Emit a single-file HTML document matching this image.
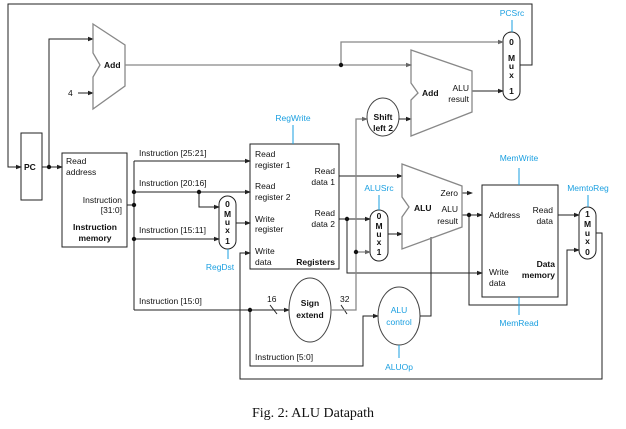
<!DOCTYPE html>
<html><head><meta charset="utf-8"><style>
body{margin:0;background:#fff;width:626px;height:429px;overflow:hidden}
svg{display:block}
text{font-family:"Liberation Sans",sans-serif;font-size:8.5px;fill:#111}
.b{font-weight:bold}
.c{fill:#1a9fe0}
.m{font-weight:bold;text-anchor:middle}
</style></head><body>
<svg width="626" height="429" viewBox="0 0 626 429">
<defs>
<marker id="a" markerWidth="6" markerHeight="6" refX="5" refY="3" orient="auto" markerUnits="userSpaceOnUse"><path d="M0,0.8 L6,3 L0,5.2 z" fill="#222"/></marker>
<marker id="g" markerWidth="6" markerHeight="6" refX="5" refY="3" orient="auto" markerUnits="userSpaceOnUse"><path d="M0,0.8 L6,3 L0,5.2 z" fill="#666"/></marker>
</defs>
<g fill="none" stroke="#222" stroke-width="1">
<polyline points="520,65 532,65 532,4 8,4 8,167 21,167" marker-end="url(#a)"/>
<rect x="21" y="133" width="21" height="67"/>
<polyline points="42,167 62,167" marker-end="url(#a)"/>
<polyline points="49,167 49,39 93,39" marker-end="url(#a)"/>
<polyline points="78,93 93,93" marker-end="url(#a)"/>
<rect x="62" y="153" width="65" height="94"/>
<polyline points="127,205 134,205"/>
<polyline points="134,161 134,310"/>
<polyline points="134,161 250,161" marker-end="url(#a)"/>
<polyline points="134,192 250,192" marker-end="url(#a)"/>
<polyline points="199,192 199,207 219,207" marker-end="url(#a)"/>
<polyline points="134,239 219,239" marker-end="url(#a)"/>
<polyline points="236,223 250,223" marker-end="url(#a)"/>
<polyline points="134,310 289,310" marker-end="url(#a)"/>
<polyline points="250,310 250,366 363,366 363,316 378,316" marker-end="url(#a)"/>
<rect x="250" y="144" width="89" height="125"/>
<polyline points="339,176 402,176" marker-end="url(#a)"/>
<polyline points="339,219 370,219" marker-end="url(#a)"/>
<polyline points="347,219 347,273 482,273" marker-end="url(#a)"/>
<polyline points="388,234 402,234" marker-end="url(#a)"/>
<rect x="219" y="196" width="17" height="53" rx="8.5"/>
<rect x="370" y="210" width="18" height="51" rx="9"/>
<rect x="503" y="32" width="17" height="68" rx="8.5"/>
<rect x="579" y="207" width="17" height="52" rx="8.5"/>
<polyline points="462,193 472,193" marker-end="url(#a)"/>
<polyline points="462,215 482,215" marker-end="url(#a)"/>
<polyline points="469,215 469,305 567,305 567,250 579,250" marker-end="url(#a)"/>
<rect x="482" y="185" width="76" height="112"/>
<polyline points="558,215 579,215" marker-end="url(#a)"/>
<polyline points="596,233 602,233 602,379 240,379 240,253 250,253" marker-end="url(#a)"/>
<ellipse cx="399" cy="316" rx="21" ry="29" stroke="#444"/>
<polyline points="420,316 431,316 431,237"/>
<ellipse cx="310" cy="310" rx="21" ry="32" stroke="#444"/>
<ellipse cx="383" cy="117" rx="16" ry="19" stroke="#444"/>
<polyline points="399,119 411,119" marker-end="url(#a)"/>
<polyline points="472,91 503,91" marker-end="url(#a)"/>
<line x1="270" y1="305" x2="277" y2="314"/>
<line x1="341" y1="305" x2="347" y2="314"/>
</g>
<g fill="none" stroke="#888" stroke-width="1.3">
<polygon points="93,24 125,45 125,86 93,109 93,77 100,65 93,53"/>
<polygon points="411,50 472,71 472,112 411,136 411,100 418,93 411,83"/>
<polygon points="402,164 462,186 462,227 402,249 402,217 409,207 402,197"/>
<polyline points="125,65 411,65" marker-end="url(#g)"/>
<polyline points="341,65 341,42 503,42" marker-end="url(#g)"/>
<polyline points="331,310 356,310 356,119 367,119" marker-end="url(#g)"/>
<polyline points="356,252 370,252" marker-end="url(#g)"/>
</g>
<g stroke="#1a9fe0" stroke-width="1">
<line x1="293" y1="125" x2="293" y2="144"/>
<line x1="512" y1="20" x2="512" y2="32"/>
<line x1="379" y1="195" x2="379" y2="210"/>
<line x1="519" y1="168" x2="519" y2="185"/>
<line x1="519" y1="297" x2="519" y2="315"/>
<line x1="588" y1="195" x2="588" y2="207"/>
<line x1="228" y1="249" x2="228" y2="259"/>
<line x1="399" y1="345" x2="399" y2="358"/>
</g>
<g fill="#111">
<circle cx="49" cy="167" r="2.2"/><circle cx="134" cy="192" r="2.2"/><circle cx="134" cy="205" r="2.2"/><circle cx="134" cy="239" r="2.2"/><circle cx="199" cy="192" r="2.2"/><circle cx="250" cy="310" r="2.2"/><circle cx="341" cy="65" r="2.2"/><circle cx="347" cy="219" r="2.2"/><circle cx="356" cy="252" r="2.2"/><circle cx="469" cy="215" r="2.2"/>
</g>
<text x="24" y="170" class="b">PC</text>
<text x="104" y="68" class="b">Add</text>
<text x="68" y="96">4</text>
<text x="66" y="164">Read</text><text x="66" y="175">address</text>
<text x="122" y="203" text-anchor="end">Instruction</text><text x="122" y="213" text-anchor="end">[31:0]</text>
<text x="95" y="230" class="m">Instruction</text><text x="95" y="241" class="m">memory</text>
<text x="139" y="156">Instruction [25:21]</text>
<text x="139" y="186">Instruction [20:16]</text>
<text x="139" y="233">Instruction [15:11]</text>
<text x="139" y="304">Instruction [15:0]</text>
<text x="255" y="360">Instruction [5:0]</text>
<text x="267" y="302">16</text><text x="340" y="302">32</text>
<text x="293" y="121" text-anchor="middle" class="c">RegWrite</text>
<text x="512" y="16" text-anchor="middle" class="c">PCSrc</text>
<text x="379" y="191" text-anchor="middle" class="c">ALUSrc</text>
<text x="519" y="161" text-anchor="middle" class="c">MemWrite</text>
<text x="519" y="326" text-anchor="middle" class="c">MemRead</text>
<text x="588" y="191" text-anchor="middle" class="c">MemtoReg</text>
<text x="220" y="270" text-anchor="middle" class="c">RegDst</text>
<text x="399" y="370" text-anchor="middle" class="c">ALUOp</text>
<text x="399" y="313" text-anchor="middle" class="c">ALU</text><text x="399" y="325" text-anchor="middle" class="c">control</text>
<text x="255" y="157">Read</text><text x="255" y="168">register 1</text>
<text x="255" y="189">Read</text><text x="255" y="200">register 2</text>
<text x="255" y="222">Write</text><text x="255" y="232">register</text>
<text x="255" y="254">Write</text><text x="255" y="265">data</text>
<text x="335" y="265" text-anchor="end" class="b">Registers</text>
<text x="335" y="174" text-anchor="end">Read</text><text x="335" y="185" text-anchor="end">data 1</text>
<text x="335" y="216" text-anchor="end">Read</text><text x="335" y="227" text-anchor="end">data 2</text>
<text x="227.5" y="207" class="m">0</text><text x="227.5" y="217" class="m">M</text><text x="227.5" y="225" class="m">u</text><text x="227.5" y="233" class="m">x</text><text x="227.5" y="244" class="m">1</text>
<text x="379" y="219" class="m">0</text><text x="379" y="229" class="m">M</text><text x="379" y="237" class="m">u</text><text x="379" y="245" class="m">x</text><text x="379" y="255" class="m">1</text>
<text x="511.5" y="45" class="m">0</text><text x="511.5" y="61" class="m">M</text><text x="511.5" y="69" class="m">u</text><text x="511.5" y="78" class="m">x</text><text x="511.5" y="94" class="m">1</text>
<text x="587.5" y="217" class="m">1</text><text x="587.5" y="227" class="m">M</text><text x="587.5" y="236" class="m">u</text><text x="587.5" y="244" class="m">x</text><text x="587.5" y="255" class="m">0</text>
<text x="383" y="120" class="m">Shift</text><text x="383" y="131" class="m">left 2</text>
<text x="310" y="306" class="m">Sign</text><text x="310" y="318" class="m">extend</text>
<text x="422" y="96" class="b">Add</text>
<text x="469" y="91" text-anchor="end">ALU</text><text x="469" y="102" text-anchor="end">result</text>
<text x="414" y="211" class="b">ALU</text>
<text x="458" y="196" text-anchor="end">Zero</text>
<text x="458" y="212" text-anchor="end">ALU</text><text x="458" y="224" text-anchor="end">result</text>
<text x="489" y="218">Address</text>
<text x="553" y="213" text-anchor="end">Read</text><text x="553" y="224" text-anchor="end">data</text>
<text x="489" y="275">Write</text><text x="489" y="286">data</text>
<text x="555" y="267" text-anchor="end" class="b">Data</text><text x="555" y="278" text-anchor="end" class="b">memory</text>
<text x="313" y="417" text-anchor="middle" style="font-family:'Liberation Serif',serif;font-size:14px">Fig. 2: ALU Datapath</text>
</svg>
</body></html>
